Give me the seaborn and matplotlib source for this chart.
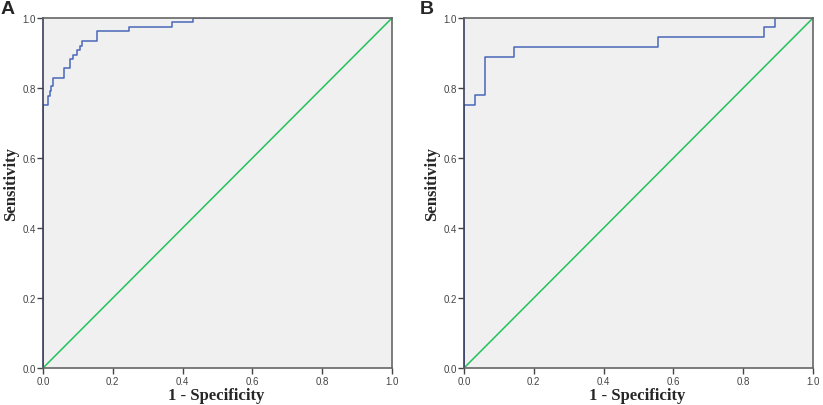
import matplotlib
matplotlib.use("Agg")
import matplotlib.pyplot as plt
import seaborn as sns
import pandas as pd

# Panel A ROC vertices (1 - specificity, sensitivity)
fpr_a = [0.0, 0.0, 0.014, 0.019, 0.024, 0.029, 0.060, 0.076, 0.086, 0.097, 0.105, 0.113, 0.155, 0.245, 0.371, 0.430, 1.0]
tpr_a = [0.0, 0.751, 0.778, 0.792, 0.807, 0.830, 0.857, 0.883, 0.894, 0.909, 0.921, 0.935, 0.962, 0.975, 0.988, 1.0, 1.0]

# Panel B ROC vertices
fpr_b = [0.0, 0.0, 0.031, 0.059, 0.143, 0.557, 0.860, 0.891, 1.0]
tpr_b = [0.0, 0.751, 0.781, 0.890, 0.918, 0.946, 0.973, 1.0, 1.0]

ref_x = [0.0, 1.0]
ref_y = [0.0, 1.0]

ticks = [0.0, 0.2, 0.4, 0.6, 0.8, 1.0]
tick_labels = ["0.0", "0.2", "0.4", "0.6", "0.8", "1.0"]
panel_labels = ["A", "B"]

sns.set_style("white")
plt.rcParams['font.family'] = ['Liberation Sans', 'DejaVu Sans']

fig = plt.figure(figsize=(8.23, 4.06), dpi=100)
lefts = [43 / 823, 464 / 823]
w = 349 / 823
b = 37 / 406
h = 350 / 406
letter_x = [0.5 / 823, 419.5 / 823]

curves = [(fpr_a, tpr_a), (fpr_b, tpr_b)]
for i, (fx, ty) in enumerate(curves):
    ax = fig.add_axes([lefts[i], b, w, h])
    ax.set_facecolor("#f0f0f0")
    df = pd.DataFrame({"fpr": fx, "tpr": ty})
    sns.lineplot(data=df, x="fpr", y="tpr", ax=ax, estimator=None, sort=False,
                 drawstyle="steps-post", color="#4a68b8", linewidth=1.1)
    dref = pd.DataFrame({"x": ref_x, "y": ref_y})
    sns.lineplot(data=dref, x="x", y="y", ax=ax, estimator=None, sort=False,
                 color="#22c25a", linewidth=1.1)
    ax.set_xlim(0, 1)
    ax.set_ylim(0, 1)
    ax.set_xticks(ticks)
    ax.set_xticklabels(tick_labels)
    ax.set_yticks(ticks)
    ax.set_yticklabels(tick_labels)
    ax.tick_params(axis="both", direction="out", length=4.5, width=1, color="#444444",
                   labelsize=7, labelcolor="#444444", pad=1)
    ax.tick_params(axis="x", bottom=True)
    ax.tick_params(axis="y", left=True, pad=0.5)
    for s in ax.spines.values():
        s.set_color("#666666")
        s.set_linewidth(1.2)
    ax.spines["left"].set_color("#3a3f5c")
    ax.set_xlabel("1 - Specificity", family=["Liberation Serif"], fontweight="bold",
                  fontsize=12)
    ax.set_ylabel("Sensitivity", family=["Liberation Serif"], fontweight="bold",
                  fontsize=12)
    ax.xaxis.label.set_va("center")
    ax.yaxis.label.set_va("center")
    ax.xaxis.set_label_coords(0.497, -0.077)
    ax.yaxis.set_label_coords(-0.092, 0.529)
    fig.text(letter_x[i], 1 - 1.5 / 406, panel_labels[i], ha="left", va="top",
             fontsize=14, fontweight="bold", family=["Liberation Sans"])

fig.savefig("out.png", dpi=100)
